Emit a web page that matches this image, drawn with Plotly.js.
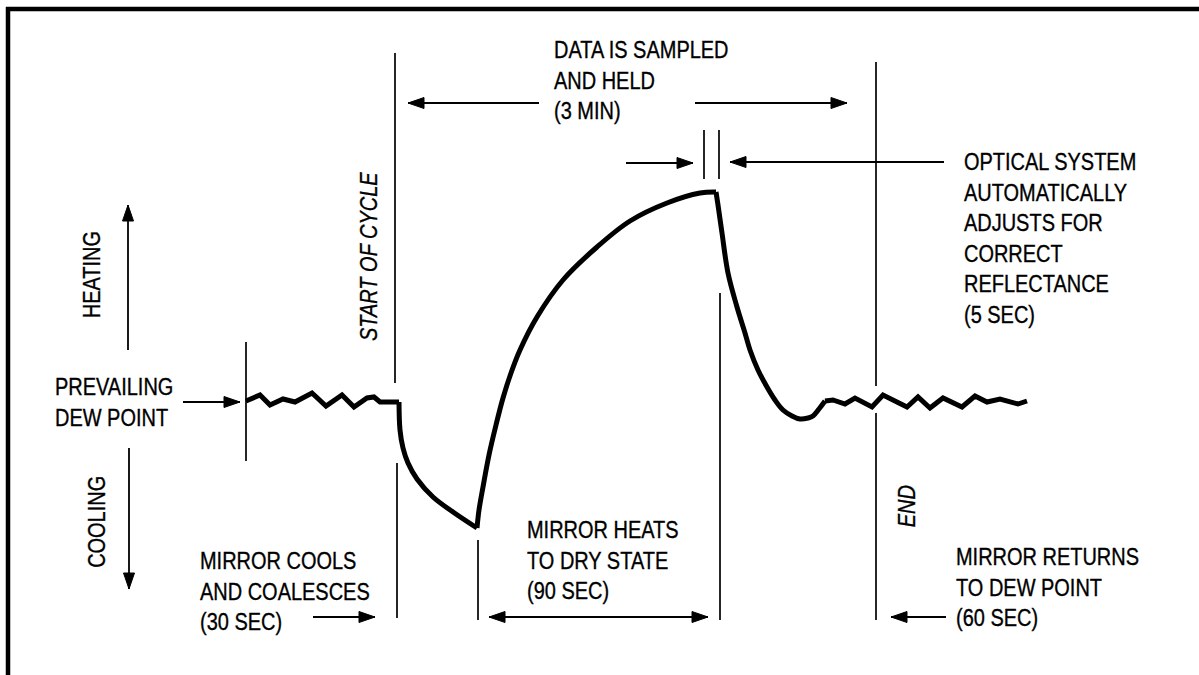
<!DOCTYPE html>
<html>
<head>
<meta charset="utf-8">
<script src="https://cdn.plot.ly/plotly-3.0.1.min.js"></script>
<style>html,body{margin:0;padding:0;background:#fff;}#chart{width:1199px;height:675px;}</style>
</head>
<body>
<div id="chart"></div>
<script>
// ---- Data: mirror temperature trace (diagram units, time to the right, cooler downward) ----
const curveX = [246,260,270,283,295,312,326,342,354,367,374,380,399,
                400,403,408,417,433,453,477,
                479,483,489,496,503,511,520,537,563,597,630,667,700,716,
                718,722,728,737,745,750,758,767,775,783,792,800,808,813,819,825,
                833,845,855,872,883,907,918,930,943,962,975,987,1000,1018,1027];
const curveY = [401,395,405,399,402,393,406,395,407,398,397,402,402,
                430,448,463,479,497,512,528,
                510,487,455,425,398,373,350,317,280,247,221,203,193,192,
                205,233,273,307,333,350,370,387,400,410,416,419,418,416,409,401,
                400,404,398,407,395,407,397,408,398,407,396,402,399,404,401];
// segment boundaries (index ranges) and whether each is a smooth curve or a jagged line
const segStart  = [0, 12, 19, 33, 49];
const segEnd    = [12, 19, 33, 49, 64];
const segSmooth = [false, true, true, true, false];

// Phase marker lines (x, yTop, yBottom)
const markerX    = [246, 395, 397, 478, 720, 876, 876, 704, 719];
const markerTop  = [342,  53, 463, 540, 293,  62, 413, 130, 130];
const markerBot  = [461, 383, 618, 620, 620, 386, 620, 179, 179];

// Arrows (tail -> tip), two-headed flag
const arrowTailX = [128, 129, 183, 313, 489, 946, 539, 695, 626, 944];
const arrowTailY = [350, 448, 402, 617, 617, 617, 103, 103, 163, 162];
const arrowTipX  = [128, 129, 240, 375, 708, 891, 408, 847, 693, 730];
const arrowTipY  = [205, 589, 402, 617, 617, 617, 103, 103, 163, 162];
const arrowBoth  = [false,false,false,false,true,false,false,false,false,false];

// Text labels
const blockTexts = [
  'DATA IS SAMPLED<br>AND HELD<br>(3 MIN)',
  'OPTICAL SYSTEM<br>AUTOMATICALLY<br>ADJUSTS FOR<br>CORRECT<br>REFLECTANCE<br>(5 SEC)',
  'PREVAILING<br>DEW POINT',
  'MIRROR COOLS<br>AND COALESCES<br>(30 SEC)',
  'MIRROR HEATS<br>TO DRY STATE<br>(90 SEC)',
  'MIRROR RETURNS<br>TO DEW POINT<br>(60 SEC)'
];
const rotatedTexts = ['HEATING', 'COOLING', 'START OF CYCLE', 'END'];

// ---- Layout helpers ----
const FONT = 'Liberation Sans, Arial, Helvetica, sans-serif';
const blockPos = [[552, 80], [962, 238], [53, 402], [198, 591], [525, 560], [954, 587]];
const rotPos = [[92, 275, false], [97, 522, false], [369, 257, true], [907, 506, true]];

const shapes = [];
shapes.push({type:'line', x0:6, x1:1199, y0:9, y1:9, line:{color:'#000', width:4.5}});
shapes.push({type:'line', x0:8, x1:8, y0:7, y1:675, line:{color:'#000', width:4.5}});
for (let i = 0; i < markerX.length; i++) {
  shapes.push({type:'line', x0:markerX[i], x1:markerX[i], y0:markerTop[i], y1:markerBot[i],
    line:{color:'#000', width:1.7}});
}
const HL = 16, HW = 5.5;
function head(tx, ty, fx, fy) {
  const dx = tx - fx, dy = ty - fy, L = Math.hypot(dx, dy);
  const ux = dx / L, uy = dy / L, px = -uy, py = ux;
  const bx = tx - ux * HL, by = ty - uy * HL;
  return {type:'path', path:`M${tx},${ty} L${bx + px*HW},${by + py*HW} L${bx - px*HW},${by - py*HW} Z`,
    fillcolor:'#000', line:{color:'#000', width:1}};
}
for (let i = 0; i < arrowTipX.length; i++) {
  const tx = arrowTipX[i], ty = arrowTipY[i], fx = arrowTailX[i], fy = arrowTailY[i];
  shapes.push({type:'line', x0:fx, y0:fy, x1:tx, y1:ty, line:{color:'#000', width:1.8}});
  shapes.push(head(tx, ty, fx, fy));
  if (arrowBoth[i]) shapes.push(head(fx, fy, tx, ty));
}

const annotations = [];
blockTexts.forEach((t, i) => {
  annotations.push({x: blockPos[i][0], y: blockPos[i][1], xref:'x', yref:'y', text: t,
    showarrow:false, xanchor:'left', yanchor:'middle', align:'left',
    font:{family: FONT, size: 23.5, color:'#000'}});
});
rotatedTexts.forEach((t, i) => {
  annotations.push({x: rotPos[i][0], y: rotPos[i][1], xref:'x', yref:'y', text: t,
    showarrow:false, xanchor:'center', yanchor:'middle', textangle:-90,
    font:{family: FONT, size: 23.5, color:'#000', style: rotPos[i][2] ? 'italic' : 'normal'}});
});

const traces = segStart.map((s, k) => ({
  x: curveX.slice(s, segEnd[k] + 1), y: curveY.slice(s, segEnd[k] + 1),
  type:'scatter', mode:'lines', hoverinfo:'skip',
  line:{color:'#000', width:5, shape: segSmooth[k] ? 'spline' : 'linear', smoothing: 1}
}));

const layout = {
  width:1199, height:675, margin:{l:0, r:0, t:0, b:0},
  paper_bgcolor:'#fff', plot_bgcolor:'#fff', showlegend:false,
  xaxis:{range:[0,1199], visible:false, fixedrange:true},
  yaxis:{range:[675,0], visible:false, fixedrange:true},
  shapes: shapes, annotations: annotations
};
Plotly.newPlot('chart', traces, layout, {displayModeBar:false, staticPlot:true}).then(() => {
  // condensed, slightly heavy lettering like the original (horizontal squeeze of the real text)
  document.querySelectorAll('#chart .annotation').forEach(g => {
    const idx = +g.getAttribute('data-index');
    const t = g.querySelector('.annotation-text');
    if (!t) return;
    t.style.transformBox = 'fill-box';
    t.style.transformOrigin = idx < blockTexts.length ? '0% 50%' : '50% 50%';
    t.style.transform = 'scaleX(0.85)';
    t.style.stroke = '#000';
    t.style.strokeWidth = '0.35px';
  });
});
</script>
</body>
</html>
